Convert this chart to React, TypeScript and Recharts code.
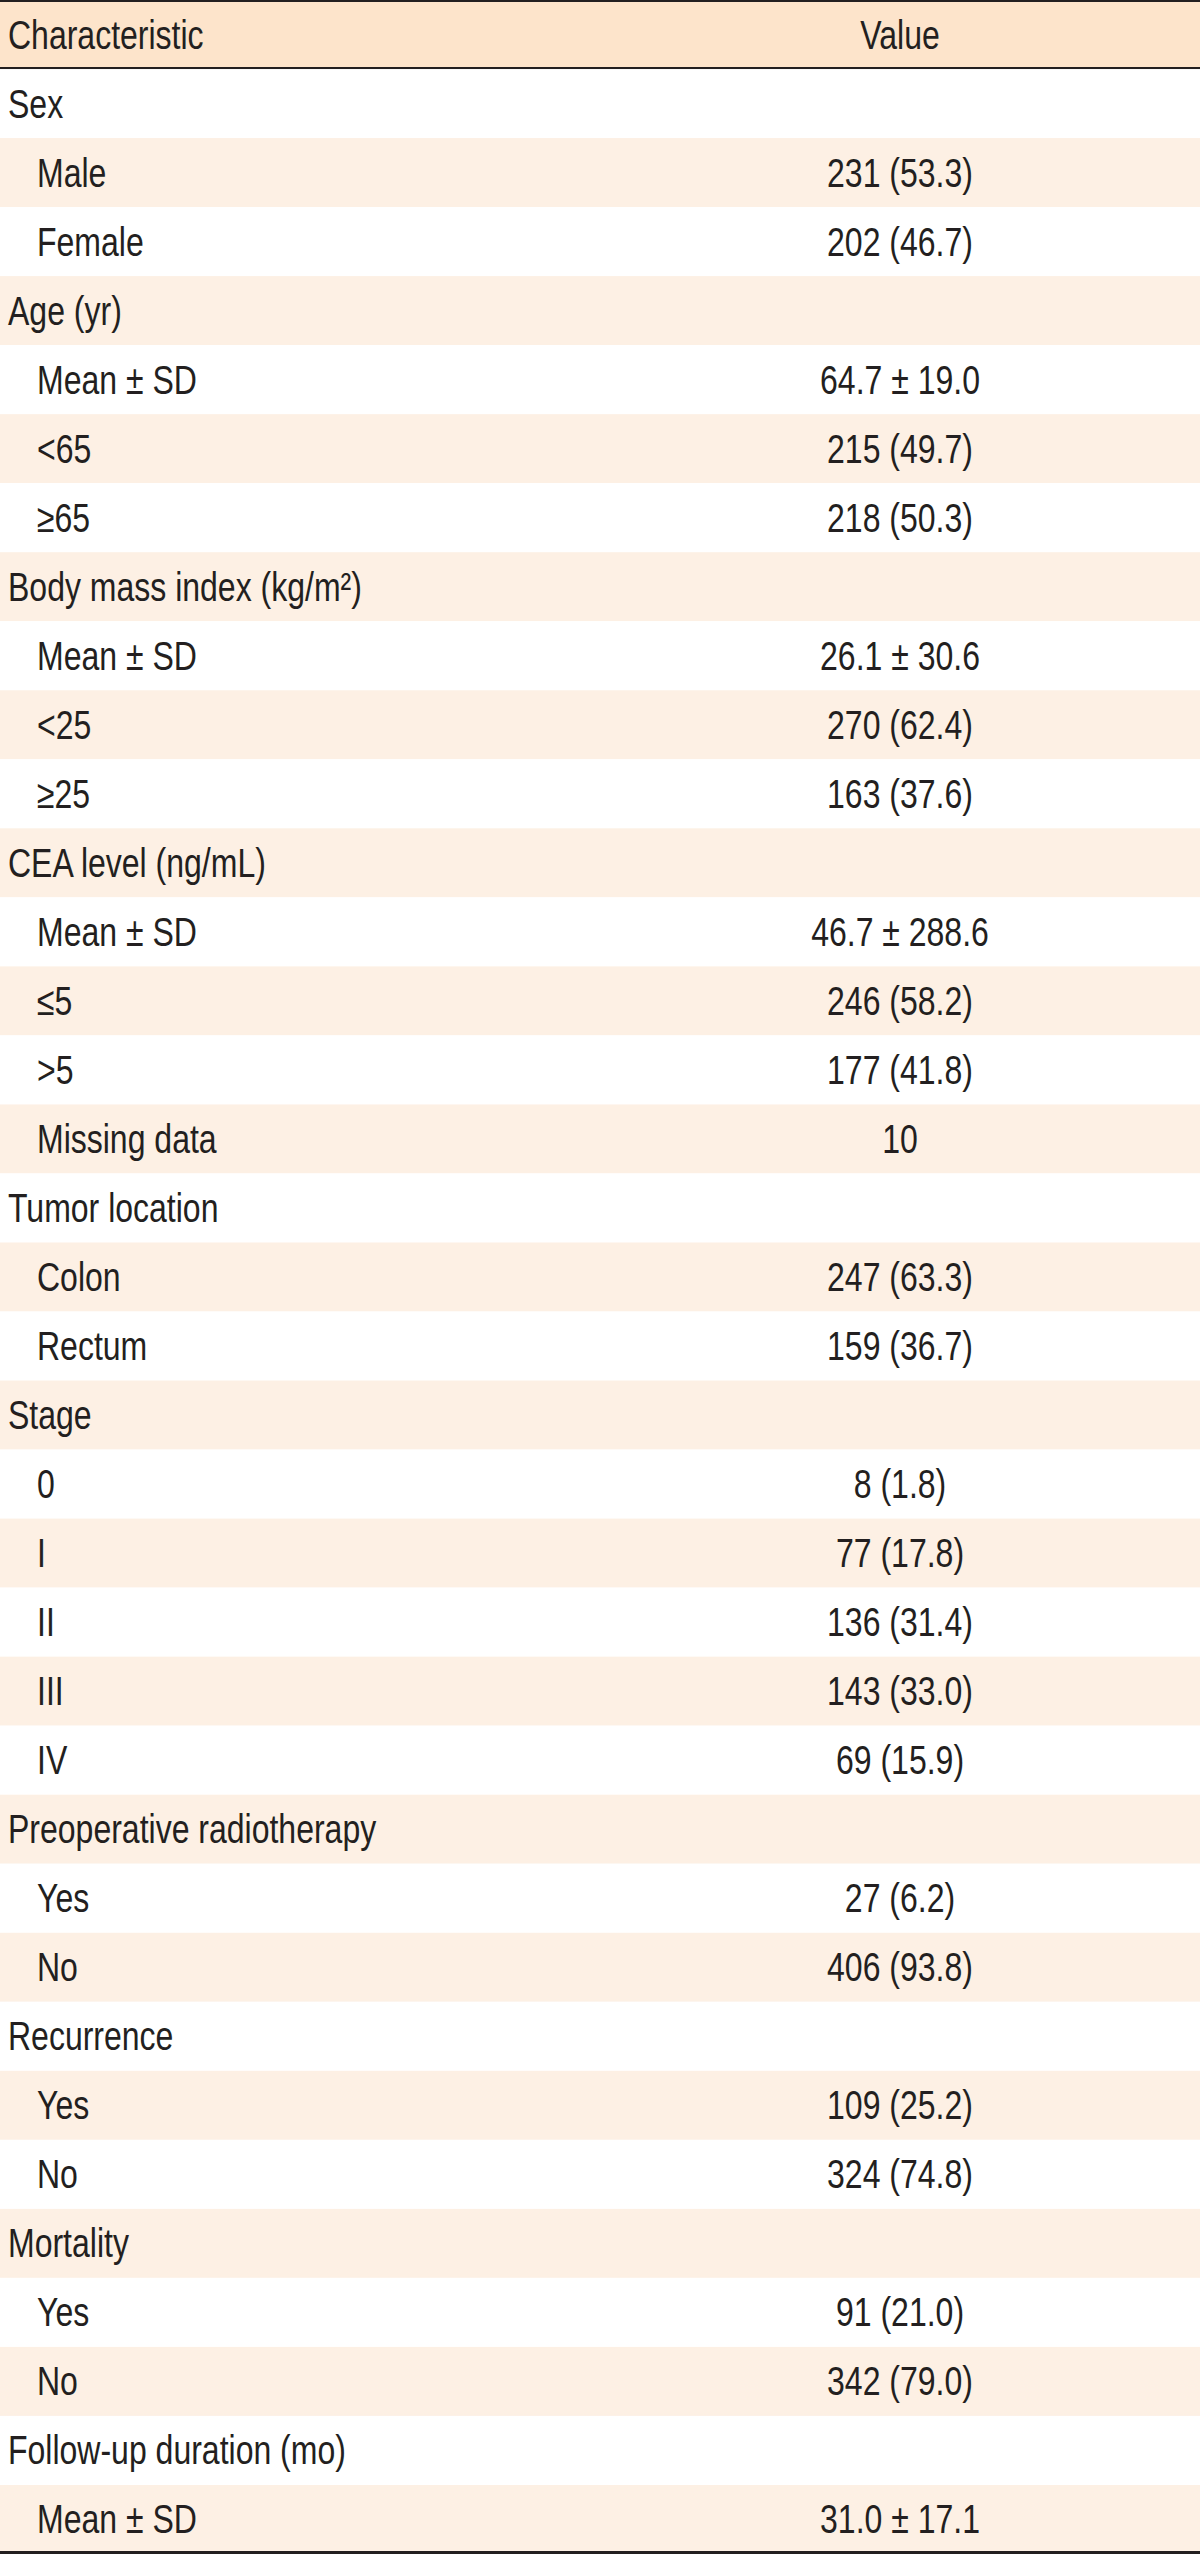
import { BarChart, Bar, XAxis, YAxis } from "recharts";

const headers = ["Characteristic", "Value"];

const labels = [
  "Sex", "Male", "Female",
  "Age (yr)", "Mean ± SD", "<65", "≥65",
  "Body mass index (kg/m²)", "Mean ± SD", "<25", "≥25",
  "CEA level (ng/mL)", "Mean ± SD", "≤5", ">5", "Missing data",
  "Tumor location", "Colon", "Rectum",
  "Stage", "0", "I", "II", "III", "IV",
  "Preoperative radiotherapy", "Yes", "No",
  "Recurrence", "Yes", "No",
  "Mortality", "Yes", "No",
  "Follow-up duration (mo)", "Mean ± SD",
];

const values = [
  "", "231 (53.3)", "202 (46.7)",
  "", "64.7 ± 19.0", "215 (49.7)", "218 (50.3)",
  "", "26.1 ± 30.6", "270 (62.4)", "163 (37.6)",
  "", "46.7 ± 288.6", "246 (58.2)", "177 (41.8)", "10",
  "", "247 (63.3)", "159 (36.7)",
  "", "8 (1.8)", "77 (17.8)", "136 (31.4)", "143 (33.0)", "69 (15.9)",
  "", "27 (6.2)", "406 (93.8)",
  "", "109 (25.2)", "324 (74.8)",
  "", "91 (21.0)", "342 (79.0)",
  "", "31.0 ± 17.1",
];

const indented = [
  0, 1, 1,
  0, 1, 1, 1,
  0, 1, 1, 1,
  0, 1, 1, 1, 1,
  0, 1, 1,
  0, 1, 1, 1, 1, 1,
  0, 1, 1,
  0, 1, 1,
  0, 1, 1,
  0, 1,
];

const FONT = "'Liberation Sans', Arial, sans-serif";
const INK = "#231f20";
const HEADER_BG = "#fde4cb";
const STRIPE_BG = "#fdf0e4";
const SQUEEZE = 0.8; // fake a condensed face

const rows = [
  { id: "h", label: headers[0], value: headers[1], indent: 0, kind: "header", full: 1 },
  ...labels.map((label, i) => ({
    id: `r${i}`,
    label,
    value: values[i],
    indent: indented[i],
    kind: i % 2 === 1 ? "stripe" : "plain",
    full: 1,
  })),
];

function CellText({ tx, ty, anchor, children }: any) {
  return (
    <text
      transform={`translate(${tx},${ty}) scale(${SQUEEZE},1)`}
      fill={INK}
      fontFamily={FONT}
      fontSize={40}
      textAnchor={anchor}
    >
      {children}
    </text>
  );
}

function RowShape(props: any) {
  const { x, y, width, height, payload, index } = props;
  const isHeader = payload.kind === "header";
  const isLast = index === rows.length - 1;
  const fill = isHeader ? HEADER_BG : payload.kind === "stripe" ? STRIPE_BG : "#ffffff";
  const baseline = y + height / 2 + 14;
  return (
    <g>
      <rect x={x} y={y} width={width} height={height} fill={fill} />
      {isHeader && (
        <>
          <line x1={x} x2={x + width} y1={y + 1} y2={y + 1} stroke={INK} strokeWidth={2} />
          <line x1={x} x2={x + width} y1={y + height - 0.5} y2={y + height - 0.5} stroke={INK} strokeWidth={3} />
        </>
      )}
      {isLast && (
        <line x1={x} x2={x + width} y1={y + height - 1.5} y2={y + height - 1.5} stroke={INK} strokeWidth={3} />
      )}
      <CellText tx={x + (payload.indent ? 37 : 8)} ty={baseline} anchor="start">
        {payload.label}
      </CellText>
      {payload.value && (
        <CellText tx={x + 900} ty={baseline} anchor="middle">
          {payload.value}
        </CellText>
      )}
    </g>
  );
}

export default function App() {
  return (
    <div style={{ width: 1200, height: 2554 }}>
      <style>{"body{margin:0}"}</style>
      <BarChart
        width={1200}
        height={2554}
        data={rows}
        layout="vertical"
        margin={{ top: 0, right: 0, bottom: 0, left: 0 }}
        barCategoryGap={0}
      >
        <XAxis type="number" domain={[0, 1]} hide />
        <YAxis type="category" dataKey="id" hide />
        <Bar dataKey="full" shape={RowShape} isAnimationActive={false} />
      </BarChart>
    </div>
  );
}
